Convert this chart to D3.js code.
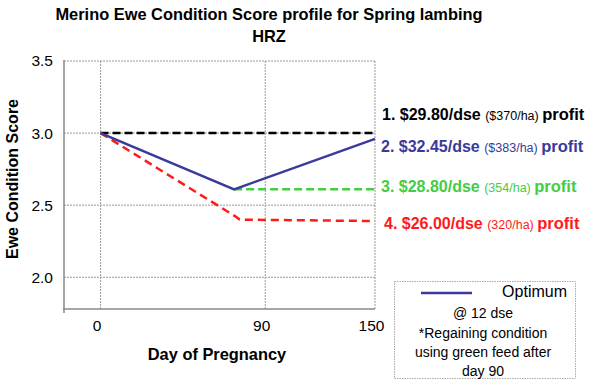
<!DOCTYPE html>
<html><head><meta charset="utf-8">
<script src="https://cdn.jsdelivr.net/npm/d3@7"></script>
<style>body{margin:0;background:#fff}svg{display:block}text{font-family:"Liberation Sans",Arial,Helvetica,sans-serif}</style>
</head><body><svg id="c" width="600" height="383"></svg>
<script>
const titleLines = ["Merino Ewe Condition Score profile for Spring lambing", "HRZ"];
const xTicks = [0, 90, 150];
const yTicks = [2.0, 2.5, 3.0, 3.5];
const xLabel = "Day of Pregnancy";
const yLabel = "Ewe Condition Score";
const seriesNames = ["1", "2", "3", "4"];
const seriesColors = ["#000000", "#3a3a9c", "#44cc44", "#ff1a1a"];
const seriesDash = ["8,4", null, "8,4", "8,5"];
const s1 = [[0, 3.0], [150, 3.0]];
const s2 = [[0, 3.0], [73, 2.61], [150, 2.96]];
const s3 = [[73, 2.61], [150, 2.61]];
const s4 = [[0, 3.0], [74, 2.42], [76, 2.40], [150, 2.39]];
const annoMain = ["1. $29.80/dse", "2. $32.45/dse", "3. $28.80/dse", "4. $26.00/dse"];
const annoSub = ["($370/ha)", "($383/ha)", "(354/ha)", "(320/ha)"];
const annoEnd = ["profit", "profit", "profit", "profit"];
const legendName = "Optimum";
const legendNotes = ["@ 12 dse", "*Regaining condition", "using green feed after", "day 90"];

const svg = d3.select("#c");
const x = d3.scaleLinear().domain([-20, 150]).range([64, 375]);
const y = d3.scaleLinear().domain([1.78, 3.5]).range([309, 61]);

// title
svg.selectAll("text.title").data(titleLines).enter().append("text")
  .attr("x", 269).attr("y", (d, i) => 20 + i * 22)
  .attr("text-anchor", "middle").attr("font-size", 16.4).attr("font-weight", "bold").text(d => d);

// grid
const g = svg.append("g");
g.selectAll("line.hg").data(yTicks).enter().append("line")
  .attr("x1", x(-20)).attr("x2", x(150)).attr("y1", d => y(d)).attr("y2", d => y(d))
  .attr("stroke", "#9a9a9a").attr("stroke-width", 1).attr("stroke-dasharray", "2,1");
g.selectAll("line.vg").data(xTicks).enter().append("line")
  .attr("x1", d => x(d)).attr("x2", d => x(d)).attr("y1", y(3.5)).attr("y2", y(1.78))
  .attr("stroke", "#9a9a9a").attr("stroke-width", 1).attr("stroke-dasharray", "2,1");

// axes
const yAxis = d3.axisLeft(y).tickValues(yTicks).tickFormat(d3.format(".1f")).tickSize(0).tickPadding(11);
const ya = svg.append("g").attr("transform", `translate(${x(-20)},0)`).call(yAxis);
ya.select(".domain").remove();
ya.selectAll("text").attr("font-size", 15.5).attr("fill", "#000").attr("font-family", "Liberation Sans, Arial, sans-serif");
const xAxis = d3.axisBottom(x).tickValues(xTicks).tickSize(0).tickPadding(11);
const xa = svg.append("g").attr("transform", `translate(0,${y(1.78)})`).call(xAxis);
xa.select(".domain").remove();
xa.selectAll("text").attr("font-size", 15.5).attr("fill", "#000").attr("dx", -4).attr("font-family", "Liberation Sans, Arial, sans-serif");
svg.append("line").attr("x1", x(-20)).attr("x2", x(-20)).attr("y1", y(3.5) - 1).attr("y2", y(1.78) + 4)
  .attr("stroke", "#888").attr("stroke-width", 1.5);
svg.append("line").attr("x1", x(-20) - 1).attr("x2", x(150)).attr("y1", y(1.78)).attr("y2", y(1.78))
  .attr("stroke", "#888").attr("stroke-width", 1.5);

svg.append("text").attr("x", 217).attr("y", 360).attr("text-anchor", "middle")
  .attr("font-size", 16.4).attr("font-weight", "bold").text(xLabel);
svg.append("text").attr("transform", "translate(17.5,179) rotate(-90)").attr("text-anchor", "middle")
  .attr("font-size", 16).attr("font-weight", "bold").text(yLabel);

// lines
const line = d3.line().x(d => x(d[0])).y(d => y(d[1]));
const series = [s1, s3, s4, s2];
const order = [0, 2, 3, 1];
order.forEach((k, i) => {
  svg.append("path").datum(series[i]).attr("d", line).attr("fill", "none")
    .attr("stroke", seriesColors[k]).attr("stroke-width", 2.5)
    .attr("stroke-dasharray", seriesDash[k]);
});

// annotations
const annoY = [120, 152, 192, 229];
const annoX = [382, 381, 381, 384];
annoMain.forEach((m, i) => {
  const t = svg.append("text").attr("x", annoX[i]).attr("y", annoY[i]).attr("fill", seriesColors[i]);
  t.append("tspan").attr("font-size", 16).attr("font-weight", "bold").text(m + " ");
  t.append("tspan").attr("font-size", 12.5).text(annoSub[i] + " ");
  t.append("tspan").attr("font-size", 16.5).attr("font-weight", "bold").text(annoEnd[i]);
});

// legend
svg.append("rect").attr("x", 394.5).attr("y", 281.5).attr("width", 181).attr("height", 97)
  .attr("fill", "#fff").attr("stroke", "#aaa").attr("stroke-width", 1).attr("stroke-dasharray", "1.5,1");
svg.append("line").attr("x1", 421).attr("x2", 472).attr("y1", 293).attr("y2", 293)
  .attr("stroke", seriesColors[1]).attr("stroke-width", 2.5);
svg.append("text").attr("x", 567).attr("y", 297).attr("text-anchor", "end").attr("font-size", 16).text(legendName);
svg.selectAll("text.note").data(legendNotes).enter().append("text")
  .attr("x", 483).attr("y", (d, i) => i === 0 ? 318 : 338 + (i - 1) * 19)
  .attr("text-anchor", "middle").attr("font-size", 14).text(d => d);
</script></body></html>
